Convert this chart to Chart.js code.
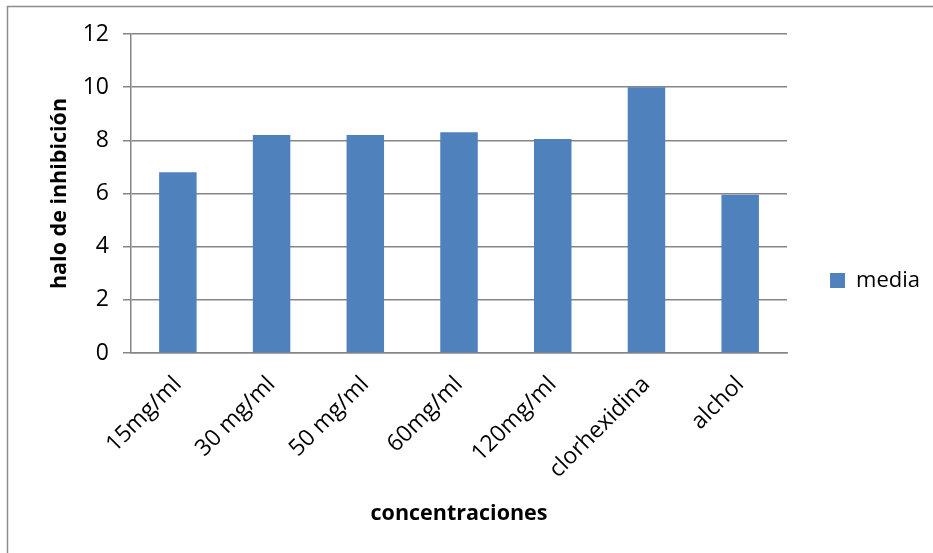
<!DOCTYPE html>
<html>
  <head>
    <meta charset="UTF-8" />
    <title>halo de inhibición</title>
    <style>
      html, body { margin: 0; padding: 0; background: #fff; overflow: hidden; }
      #wrap { position: absolute; left: 0; top: 0; width: 933px; height: 553px; }
    </style>
  </head>
  <body>
    <div id="wrap"><canvas id="myCanvas"></canvas></div>
    <script src="https://cdn.jsdelivr.net/npm/chart.js@4/dist/chart.umd.min.js"></script>
    <script>
      const categorias = ["15mg/ml", "30 mg/ml", "50 mg/ml", "60mg/ml", "120mg/ml", "clorhexidina", "alchol"];
      const media = [6.8, 8.2, 8.2, 8.3, 8.05, 10.0, 5.95];
      const yTicks = [0, 2, 4, 6, 8, 10, 12];

      const fuente = "'Open Sans', Lato, sans-serif";
      const gris = "#868686";

      // marco gris de la imagen original (cortado a derecha y abajo)
      const marco = {
        id: "marco",
        beforeDraw(chart) {
          const c = chart.ctx;
          c.save();
          c.fillStyle = "#fff";
          c.fillRect(0, 0, chart.width, chart.height);
          c.strokeStyle = "#8c8c8c";
          c.lineWidth = 1.5;
          c.strokeRect(7.5, 6.5, chart.width + 20, chart.height + 20);
          c.restore();
        }
      };

      var ctx = document.getElementById("myCanvas").getContext("2d");
      var myChart = new Chart(ctx, {
        type: "bar",
        data: {
          labels: categorias,
          datasets: [
            {
              label: "media",
              data: media,
              backgroundColor: "#4F81BD",
              borderWidth: 0,
              barPercentage: 0.4,
              categoryPercentage: 1
            }
          ]
        },
        plugins: [marco],
        options: {
          responsive: true,
          maintainAspectRatio: false,
          animation: false,
          layout: { padding: { left: 0, right: 3, top: 34, bottom: 26 } },
          plugins: {
            tooltip: { enabled: false },
            legend: {
              position: "right",
              align: "center",
              labels: {
                color: "#000",
                font: { family: fuente, size: 22 },
                boxWidth: 15,
                boxHeight: 15,
                padding: 43
              }
            }
          },
          scales: {
            x: {
              grid: { display: false, drawTicks: false },
              border: { display: true, color: gris, width: 1.5 },
              ticks: {
                color: "#000",
                font: { family: fuente, size: 23 },
                minRotation: 45,
                maxRotation: 45,
                padding: 18,
                autoSkip: false
              },
              title: {
                display: true,
                text: "concentraciones",
                color: "#000",
                font: { family: fuente, size: 21.5, weight: "bold" },
                padding: { top: 0, bottom: 0 }
              },
              afterFit(scale) { scale.height = 174; }
            },
            y: {
              min: 0,
              max: 12,
              afterBuildTicks(scale) { scale.ticks = yTicks.map(v => ({ value: v })); },
              grid: { color: gris, lineWidth: 1.5, tickLength: 8, drawTicks: true },
              border: { display: true, color: gris, width: 1.5 },
              ticks: {
                color: "#000",
                font: { family: fuente, size: 23 },
                padding: 14
              },
              title: {
                display: true,
                text: "halo de inhibición",
                color: "#000",
                font: { family: fuente, size: 21.5, weight: "bold" },
                padding: { top: 47, bottom: 0 }
              },
              afterFit(scale) { scale.width = 131; }
            }
          }
        }
      });
    </script>
  </body>
</html>
